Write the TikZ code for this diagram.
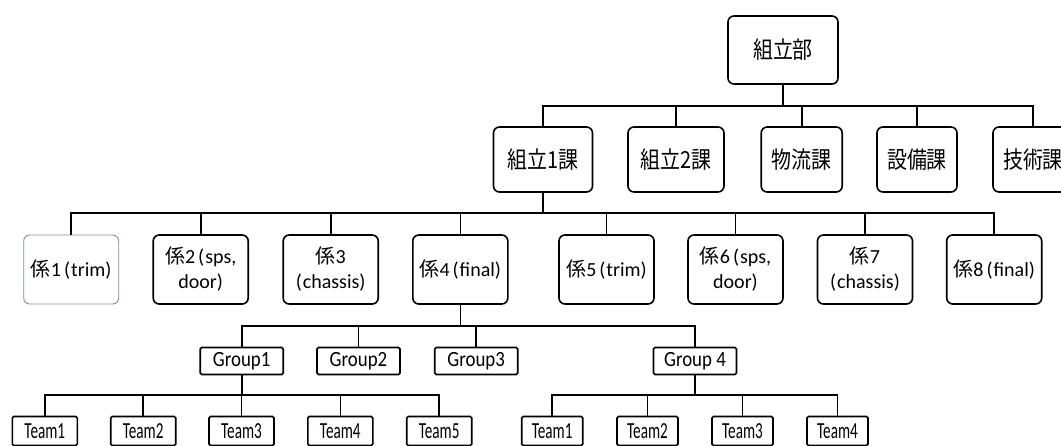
\documentclass[tikz,border=0pt]{standalone}
\usepackage{fontspec}
\setmainfont{Carlito}
\newfontfamily\jpa{Noto Sans CJK JP}[FakeStretch=0.85]
\newfontfamily\jpb{Noto Sans CJK JP}
\newfontfamily\grpfont{Carlito}[FakeStretch=0.87]
\newfontfamily\teamfont{Carlito}[FakeStretch=0.66]
\newcommand\J[1]{{\jpb #1}}
\newcommand\op{\hspace{3pt}(\hspace{1pt}}
\definecolor{softedge}{RGB}{125,140,165}
\tikzset{
  conn/.style={line width=1.6pt, line join=miter},
  bigbox/.style={draw, line width=1.6pt, rounded corners=6pt, fill=white, inner sep=0pt, align=center},
  kbox/.style={bigbox, minimum width=95pt, minimum height=69pt, font=\fontsize{20}{25}\selectfont},
  gbox/.style={draw, line width=1.6pt, rounded corners=1.5pt, fill=white, inner sep=0pt, minimum width=83pt, minimum height=27pt, font=\fontsize{21.7}{24}\grpfont},
  tbox/.style={draw, line width=1.6pt, rounded corners=1.5pt, fill=white, inner sep=0pt, minimum height=29pt, font=\fontsize{23}{24}\teamfont},
}
\begin{document}
\begin{tikzpicture}[x=1pt,y=-1pt]
\useasboundingbox (0,0) rectangle (1061,445);
\clip (0,0) rectangle (1061,445);
% bar levels
\coordinate (b1) at (0,106);
\coordinate (b2) at (0,213);
\coordinate (b3) at (0,325.7);
\coordinate (b4) at (0,395);
% top
\node[bigbox, minimum width=110pt, minimum height=68pt, font=\fontsize{23.5}{26}\jpa] (bu) at (783,50) {組立部};
% row 2
\begin{scope}[every node/.style={bigbox, minimum height=65pt, font=\fontsize{23.5}{26}\jpa}]
\node[minimum width=99pt] (ka1) at (543,159.5) {組立1課};
\node[minimum width=96pt] (ka2) at (676,159.5) {組立2課};
\node[minimum width=81pt] (ka3) at (801.7,159.5) {物流課};
\node[minimum width=80pt] (ka4) at (917,159.5) {設備課};
\node[minimum width=80pt] (ka5) at (1033,159.5) {技術課};
\end{scope}
% row 3
\node[kbox, draw=softedge, line width=0.9pt] (k1) at (71.2,269.5) {\J{係}1\op trim)};
\node[kbox] (k2) at (200.7,269.5) {\J{係}2\op sps,\\door)};
\node[kbox] (k3) at (330.7,269.5) {\J{係}3\\(\hspace{1pt}chassis)};
\node[kbox] (k4) at (460.3,269.5) {\J{係}4\op final)};
\node[kbox] (k5) at (606.5,269.5) {\J{係}5\op trim)};
\node[kbox] (k6) at (735.5,269.5) {\J{係}6\op sps,\\door)};
\node[kbox] (k7) at (865,269.5) {\J{係}7\\(\hspace{1pt}chassis)};
\node[kbox] (k8) at (994.2,269.5) {\J{係}8\op final)};
% groups
\node[gbox] (g1) at (241.7,361) {Group1};
\node[gbox] (g2) at (358.5,361) {Group2};
\node[gbox] (g3) at (476.2,361) {Group3};
\node[gbox] (g4) at (695,361) {Group 4};
% teams of group 1
\node[tbox, minimum width=65pt] (t1) at (44.8,431) {Team1};
\node[tbox, minimum width=65pt] (t2) at (143.2,431) {Team2};
\node[tbox, minimum width=65pt] (t3) at (241.5,431) {Team3};
\node[tbox, minimum width=65pt] (t4) at (340.3,431) {Team4};
\node[tbox, minimum width=65pt] (t5) at (439.2,431) {Team5};
% teams of group 4
\node[tbox, minimum width=61pt] (s1) at (552.2,431) {Team1};
\node[tbox, minimum width=61pt] (s2) at (647.5,431) {Team2};
\node[tbox, minimum width=61pt] (s3) at (742.5,431) {Team3};
\node[tbox, minimum width=61pt] (s4) at (837.5,431) {Team4};
% connectors
\foreach \c in {ka1,ka2,ka3,ka4,ka5}
  \draw[conn] (bu.south) -- (bu.south |- b1) -| (\c.north);
\foreach \c in {k1,k2,k3,k4,k5,k6,k7,k8}
  \draw[conn] (ka1.south) -- (ka1.south |- b2) -| (\c.north);
\foreach \c in {g1,g2,g3,g4}
  \draw[conn] (k4.south) -- (k4.south |- b3) -| (\c.north);
\foreach \c in {t1,t2,t3,t4,t5}
  \draw[conn] (g1.south) -- (g1.south |- b4) -| (\c.north);
\foreach \c in {s1,s2,s3,s4}
  \draw[conn] (g4.south) -- (g4.south |- b4) -| (\c.north);
\end{tikzpicture}
\end{document}
